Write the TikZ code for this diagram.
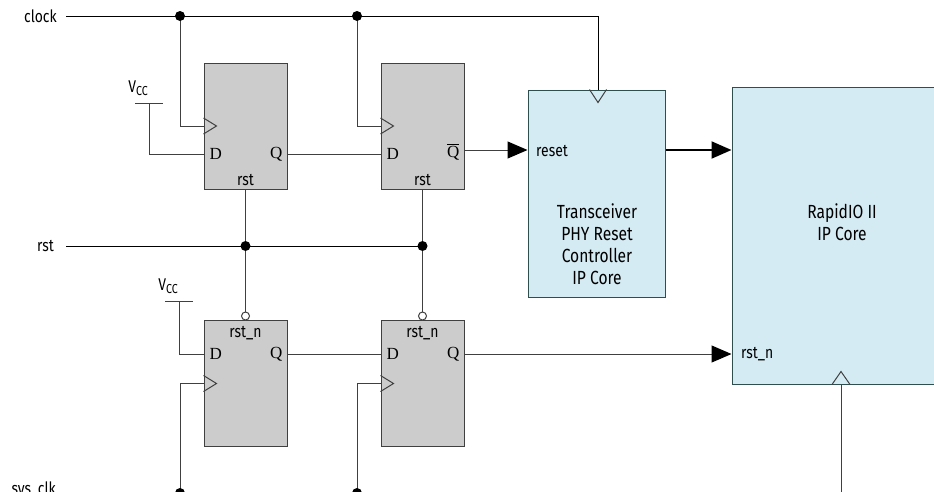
\documentclass[tikz,border=0pt]{standalone}
\usepackage{fontspec}
\setmainfont{Fira Sans}[FakeStretch=0.82]
\newfontfamily\pinfont{Liberation Serif}
\usetikzlibrary{arrows.meta,positioning}
\definecolor{corefill}{HTML}{D4EBF3}
\definecolor{coreline}{HTML}{2F4F4F}
\definecolor{fffill}{HTML}{CCCCCC}
\tikzset{
  ffbox/.style={draw=black!75, fill=fffill, line width=1pt, minimum width=83pt, minimum height=126pt, inner sep=0pt},
  corebox/.style={draw=coreline, fill=corefill, line width=1pt, inner sep=0pt},
  wire/.style={black!75, line width=1pt},
  sig/.style={font=\fontsize{17}{20}\selectfont, inner sep=0pt},
  pin/.style={font=\pinfont\fontsize{17}{20}\selectfont, inner sep=0pt},
  arr/.style={-{Triangle[length=20pt,width=17pt,black]}},
  dot/.style={fill=black}
}
\newcommand{\vcclabel}{V\raisebox{-0.35ex}{\fontsize{13}{13}\selectfont CC}}

\begin{document}
\begin{tikzpicture}[x=1pt,y=-1pt]
				\clip (0,0) rectangle (934,491);
				
				% flip-flops (top row)
				\foreach \n/\x in {F1/245.5, F2/422.5}{
					\node[ffbox] (\n) at (\x,126) {};
					\draw[wire] ([yshift=8pt]\n.west) -- ++(13,8) -- ++(-13,8);
					\node[pin, anchor=west] at ([xshift=6pt,yshift=-28pt]\n.west) {D};
					\node[sig, anchor=base] at ([yshift=4pt]\n.south) {rst};
					\coordinate (\n d) at ([yshift=-28pt]\n.west);
				}
				\node[pin, anchor=east] at ([xshift=-5pt,yshift=-28pt]F1.east) {Q};
				\node[pin, anchor=east] at ([xshift=-5pt,yshift=-26pt]F2.east) {$\overline{\mbox{Q}}$};
				\coordinate (F1q) at ([yshift=-28pt]F1.east);
				\coordinate (F2q) at ([yshift=-24pt]F2.east);
				
				% flip-flops (bottom row)
				\foreach \n/\x in {F3/245.5, F4/422.5}{
					\node[ffbox] (\n) at (\x,383.5) {};
					\draw[wire] ([yshift=8pt]\n.west) -- ++(13,8) -- ++(-13,8);
					\node[pin, anchor=west] at ([xshift=6pt,yshift=29.5pt]\n.west) {D};
					\node[pin, anchor=east] at ([xshift=-5pt,yshift=29.5pt]\n.east) {Q};
					\node[sig, anchor=base] at ([yshift=-17pt]\n.north) {rst\_n};
					\coordinate (\n d) at ([yshift=29.5pt]\n.west);
					\coordinate (\n q) at ([yshift=29.5pt]\n.east);
					\coordinate (\n b) at ([yshift=4pt]\n.north);
				}
				
				% IP cores
				\node[corebox, minimum width=137pt, minimum height=207pt] (TR) at (596.5,193.5) {};
				\node[sig, align=center, font=\fontsize{19}{22}\selectfont] (TRtext) at (597,244)
					{Transceiver\\PHY Reset\\Controller\\IP Core};
				\node[sig, anchor=west] (TRreset) at (536,151) {reset};
				\node[corebox, minimum width=213pt, minimum height=297pt] (RIO) at (838.5,235.5) {};
				\node[sig, align=center, font=\fontsize{19}{22}\selectfont] (RIOtext) at (842,222)
					{RapidIO II\\IP Core};
				\node[sig, anchor=west] (RIOrst) at (741,354) {rst\_n};
				
				% input signals
				\node[sig, anchor=east] (clock) at (57,16) {clock};
				\node[sig, anchor=east] (rst) at (54,246) {rst};
				\node[sig, anchor=east] (sysclk) at (56,490) {sys\_clk};
				\coordinate (clk) at (66,16);
				\coordinate (clkA) at (180,16);
				\coordinate (clkB) at (357,16);
				\coordinate (clkC) at (598,16);
				\coordinate (rstin) at (66,246);
				\coordinate (rstA) at (245.5,246);
				\coordinate (rstB) at (422.5,246);
				\coordinate (sys) at (66,493);
				\coordinate (sysA) at (180,493);
				\coordinate (sysB) at (357,493);
				\coordinate (sysC) at (841,493);
				\coordinate (TRclk) at (clkC |- TR.north);
				\coordinate (RIOclk) at (sysC |- RIO.south);
				
				% Vcc ties
				\coordinate (vccA) at (149,103);
				\coordinate (vccB) at (179,301);
				\foreach \v/\d in {vccA/F1d, vccB/F3d}{
					\draw[wire] ([xshift=-14pt]\v) -- ([xshift=14pt]\v);
					\draw[wire] (\v) |- (\d);
					\node[sig, anchor=base] at ([xshift=-11pt,yshift=11pt]\v) {\vcclabel};
				}
				
				% clock tree
				\draw[wire, black] (clk) -- (clkC) -- (TRclk);
				\draw[wire] ([xshift=-8.5pt]TRclk) -- ++(8.5,13) -- ++(8.5,-13);
				\draw[wire] (clkA) |- (F1.west);
				\draw[wire] (clkB) |- (F2.west);
				\draw[wire] (sys) -- (sysC) -- (RIOclk);
				\draw[wire] ([xshift=-9pt]RIOclk) -- ++(9,-13) -- ++(9,13);
				\draw[wire] (sysA) |- (F3.west);
				\draw[wire] (sysB) |- (F4.west);
				
				% reset tree
				\draw[wire, black] (rstin) -- (rstB);
				\draw[wire] (F1.south) -- (rstA) -- ([yshift=4pt]F3b);
				\draw[wire] (F2.south) -- (rstB) -- ([yshift=4pt]F4b);
				\foreach \b in {F3b, F4b}{
					\draw[wire, fill=white] (\b) circle (4pt);
				}
				
				% data path
				\draw[wire] (F1q) -- (F2d);
				\draw[wire] (F3q) -- (F4d);
				\draw[wire, arr] (F2q) -- (TR.west |- F2q);
				\draw[arr, line width=2pt] (TR.east |- F2q) -- (RIO.west |- F2q);
				\draw[wire, arr] (F4q) -- (RIO.west |- F4q);
				
				\foreach \j in {clkA, clkB, rstA, rstB, sysA, sysB}{
					\fill[dot] (\j) circle (5pt);
				}
			\end{tikzpicture}
\end{document}
